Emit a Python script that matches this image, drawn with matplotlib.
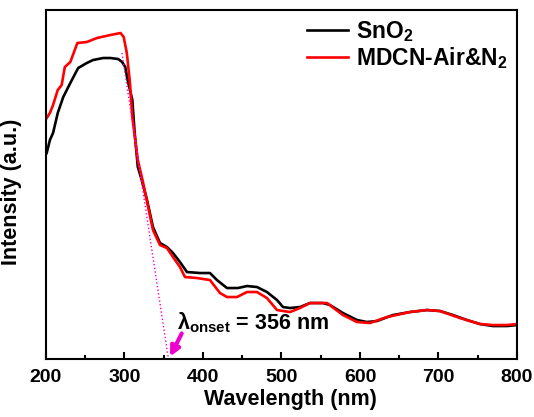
import matplotlib
matplotlib.use("Agg")
import matplotlib.pyplot as plt

plt.rcParams['font.family'] = ['Liberation Sans', 'DejaVu Sans']
plt.rcParams['font.weight'] = 'bold'
plt.rcParams['mathtext.fontset'] = 'custom'
plt.rcParams['mathtext.rm'] = 'Liberation Sans:bold'
plt.rcParams['mathtext.bf'] = 'Liberation Sans:bold'
plt.rcParams['mathtext.it'] = 'Liberation Sans:bold'

# SnO2 spectrum (wavelength nm, intensity a.u.)
wl_sno2 = [200.9, 205, 209, 215, 222, 231, 241, 252, 260, 273, 282, 292, 297, 301, 304,
           310, 313, 317, 322, 328.7, 336.3, 345.2, 354.1, 361.8, 370.7, 379.6, 396.2,
           408.9, 417.8, 430.6, 444.6, 456.1, 468.8, 481.5, 494.3, 501.9, 510.8, 523.6,
           536.3, 552.9, 561.8, 578.3, 596.2, 608.9, 621.7, 642, 663.7, 685.4, 701.9,
           718.5, 736.3, 752.9, 769.4, 787.3, 800]
int_sno2 = [206, 219, 226, 246, 262, 276, 291, 296, 299, 301, 301, 300, 297, 292, 279,
            259, 226, 192, 179, 159, 132, 116, 112, 106, 97, 87, 86,
            86, 79, 71, 71, 73, 72, 67, 59, 52, 51, 52,
            56, 56, 54, 46, 39, 37, 38, 44, 47, 49, 48,
            44, 39, 35, 33, 33, 34]

# MDCN-Air&N2 spectrum
wl_mdcn = [200.9, 205, 209, 215, 220, 224, 231, 240, 252, 265, 282, 295, 299, 303, 307,
           310, 317, 323, 336.3, 345.2, 354.1, 361.8, 370.7, 377.1, 392.4, 408.9, 421.7,
           430.6, 443.3, 456.1, 468.8, 481.5, 494.3, 510.8, 523.6, 536.3, 558, 578.3,
           596.2, 612.7, 634.4, 663.7, 685.4, 701.9, 727.4, 752.9, 769.4, 787.3, 800]
int_mdcn = [241, 246, 254, 269, 274, 292, 297, 316, 317, 321, 324, 326, 322, 306, 276,
            242, 199, 179, 129, 114, 111, 102, 92, 82, 81, 79, 66,
            62, 62, 67, 67, 61, 49, 47, 51, 56, 56, 44,
            37, 36, 42, 47, 49, 48, 41, 35, 34, 34, 35]

# tangent line for onset
tan_x = [296.8, 356]
tan_y = [306, 0]

fig = plt.figure(figsize=(5.34, 4.17), dpi=100)
ax = fig.add_axes([0.0861, 0.139, 0.882, 0.837])

ax.plot(wl_sno2, int_sno2, color='black', linewidth=1.9, label='SnO$_2$')
ax.plot(wl_mdcn, int_mdcn, color='#ff0000', linewidth=1.9, label='MDCN-Air&N$_2$')
ax.plot(tan_x, tan_y, color='#ff00cc', linewidth=1, linestyle=':')

# 矢印と注釈
ax.annotate('', xy=(356.5, 0), xytext=(374.5, 28),
            arrowprops=dict(arrowstyle='-|>', color='#ee00cc', lw=3, mutation_scale=14))
ax.text(367, 30, r'λ$_{onset}$ = 356 nm', fontsize=15.5, fontweight='bold', ha='left', va='baseline')

ax.set_xlim(200, 800)
ax.set_ylim(0, 349)
ax.set_xticks([200, 300, 400, 500, 600, 700, 800])
ax.set_xticks([250, 350, 450, 550, 650, 750], minor=True)
ax.set_yticks([])
ax.tick_params(axis='x', which='major', direction='in', length=5, width=1.5, labelsize=14, pad=7)
ax.tick_params(axis='x', which='minor', direction='in', length=3, width=1.5)
for s in ax.spines.values():
    s.set_linewidth(1.5)

ax.set_xlabel('Wavelength (nm)', fontsize=15.5, fontweight='bold')
ax.set_ylabel('Intensity (a.u.)', fontsize=15.5, fontweight='bold')
ax.xaxis.set_label_coords(0.518, -0.085)
ax.yaxis.set_label_coords(-0.05, 0.479)

leg = ax.legend(loc='upper right', frameon=False, fontsize=16.5, handlelength=1.8,
                handletextpad=0.35, labelspacing=0.05, borderaxespad=0.0,
                bbox_to_anchor=(1.0, 1.0))

plt.savefig('out.png', dpi=100)
plt.close()
